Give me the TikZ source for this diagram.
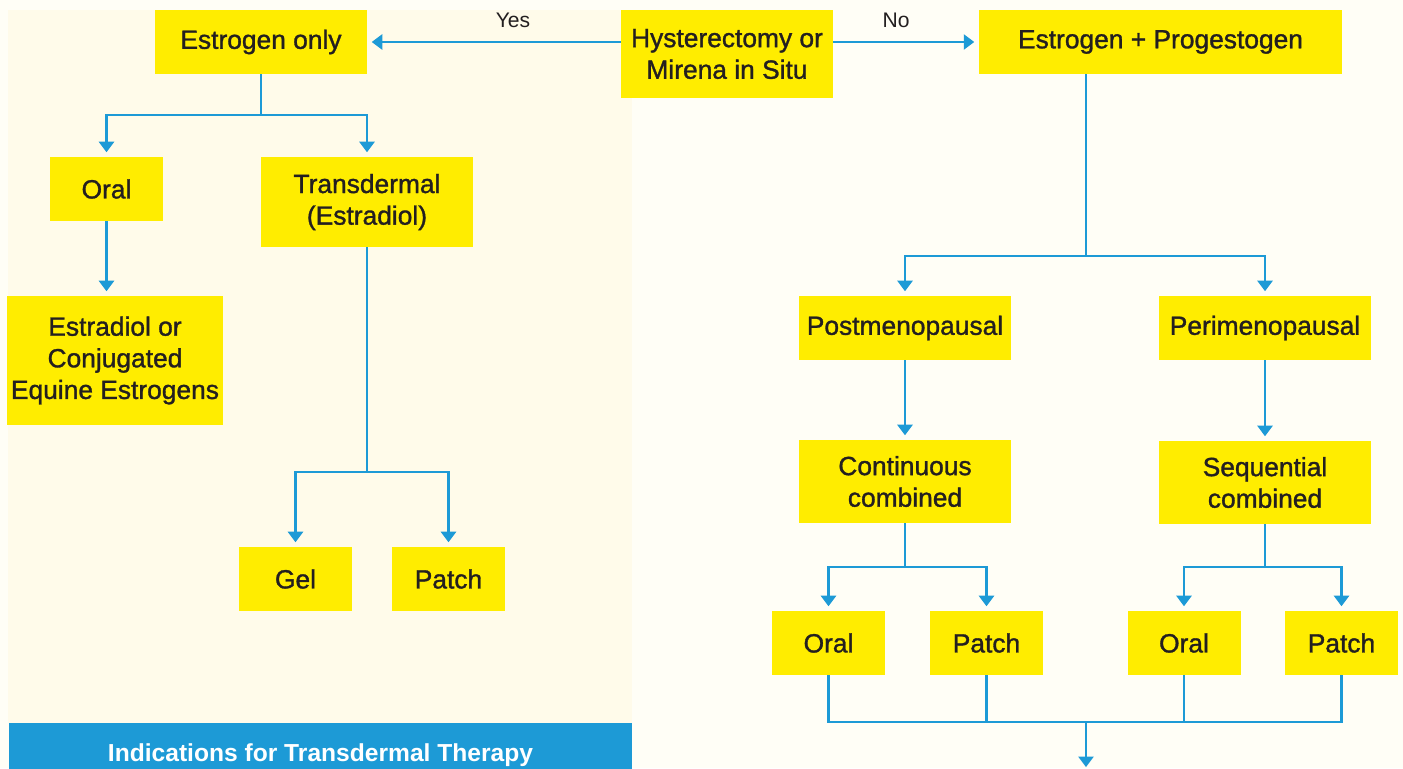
\documentclass[tikz,border=0pt]{standalone}
\usepackage{fontspec}
\setmainfont{Liberation Sans}
\newfontfamily\boxfont[FakeBold=1.2]{Liberation Sans}
\usepackage{xcolor}
\usepackage{tikz}
\usetikzlibrary{arrows.meta,positioning}

\definecolor{boxyellow}{HTML}{FFED00}
\definecolor{flowblue}{HTML}{1D9AD6}
\definecolor{creamleft}{HTML}{FFFBEA}
\definecolor{creamright}{HTML}{FFFEF6}
\definecolor{inkdark}{HTML}{231F20}

\begin{document}
\begin{tikzpicture}[
    x=0.02cm, y=-0.02cm,
    yellowbox/.style={rectangle, minimum width=4.24cm, minimum height=1.28cm, text centered, align=center, fill=boxyellow, text=inkdark, inner sep=2pt, font=\boxfont\fontsize{15}{18}\selectfont},
    smallbox/.style={yellowbox, minimum width=2.26cm},
    branchlabel/.style={text=inkdark, font=\fontsize{12}{14}\selectfont},
    line/.style={flowblue, line width=1.5pt},
    arrow/.style={line, -{Triangle[width=8.5pt,length=6pt]}, shorten >=2.5pt}
]
\useasboundingbox (0,0) rectangle (1403,768);
\clip (0,0) rectangle (1403,768);
\fill[creamright] (0,0) rectangle (1403,768);
\fill[creamleft] (8,10) rectangle (632,723);

% top row
\node (hyst) [yellowbox, minimum height=1.76cm] at (727,54) {Hysterectomy or\\Mirena in Situ};
\node (eonly) [yellowbox] at (261,42) {Estrogen only};
\node (eprog) [yellowbox, minimum width=7.26cm] at (1160.5,42) {Estrogen + Progestogen};
\node (yes) [branchlabel] at (513,20) {Yes};
\node (no) [branchlabel] at (896,20) {No};

\draw [arrow] (hyst.west |- eonly) -- (eonly.east);
\draw [arrow] (hyst.east |- eprog) -- (eprog.west);

% estrogen only
\node (oral1) [smallbox] at (106.5,189) {Oral};
\node (transd) [yellowbox, minimum height=1.8cm] at (367,202) {Transdermal\\(Estradiol)};
\node (estradiol) [yellowbox, minimum height=2.58cm] at (115,360.5) {Estradiol or\\Conjugated\\Equine Estrogens};
\node (gel) [smallbox] at (295.5,579) {Gel};
\node (patch1) [smallbox] at (448.5,579) {Patch};

\coordinate (esplit) at (261,115);
\coordinate (tsplit) at (367,472);
\draw [line] (eonly.south) -- (esplit);
\draw [arrow] (esplit) -| (oral1.north);
\draw [arrow] (esplit) -| (transd.north);
\draw [arrow] (oral1.south) -- (oral1.south |- estradiol.north);
\draw [line] (transd.south) -- (tsplit);
\draw [arrow] (tsplit) -| (gel.north);
\draw [arrow] (tsplit) -| (patch1.north);

% estrogen + progestogen
\node (post) [yellowbox] at (905,328) {Postmenopausal};
\node (peri) [yellowbox] at (1265,328) {Perimenopausal};
\node (contin) [yellowbox, minimum height=1.66cm] at (905,481.5) {Continuous\\combined};
\node (sequ) [yellowbox, minimum height=1.66cm] at (1265,482.5) {Sequential\\combined};
\node (oral2) [smallbox] at (828.5,643) {Oral};
\node (patch2) [smallbox] at (986.5,643) {Patch};
\node (oral3) [smallbox] at (1184,643) {Oral};
\node (patch3) [smallbox] at (1341.5,643) {Patch};

\coordinate (psplit) at (1086,256);
\coordinate (csplit) at (905,567);
\coordinate (ssplit) at (1265,567);
\coordinate (merge) at (1086,722);
\coordinate (onward) at (1086,768);

\draw [line] (psplit |- eprog.south) -- (psplit);
\draw [arrow] (psplit) -| (post.north);
\draw [arrow] (psplit) -| (peri.north);
\draw [arrow] (post) -- (contin);
\draw [arrow] (peri) -- (sequ);
\draw [line] (contin.south) -- (csplit);
\draw [arrow] (csplit) -| (oral2.north);
\draw [arrow] (csplit) -| (patch2.north);
\draw [line] (sequ.south) -- (ssplit);
\draw [arrow] (ssplit) -| (oral3.north);
\draw [arrow] (ssplit) -| (patch3.north);

\draw [line] (oral2.south) |- (merge) -| (patch3.south);
\draw [line] (patch2.south) -- (patch2.south |- merge);
\draw [line] (oral3.south) -- (oral3.south |- merge);
\draw [arrow, shorten >=0.5pt] (merge) -- (onward);

% indications panel
\node (indications) [fill=flowblue, minimum width=12.46cm, minimum height=1.28cm, text=white, font=\fontsize{14}{16}\selectfont\bfseries] at (320.5,755) {Indications for Transdermal Therapy};

\end{tikzpicture}
\end{document}
